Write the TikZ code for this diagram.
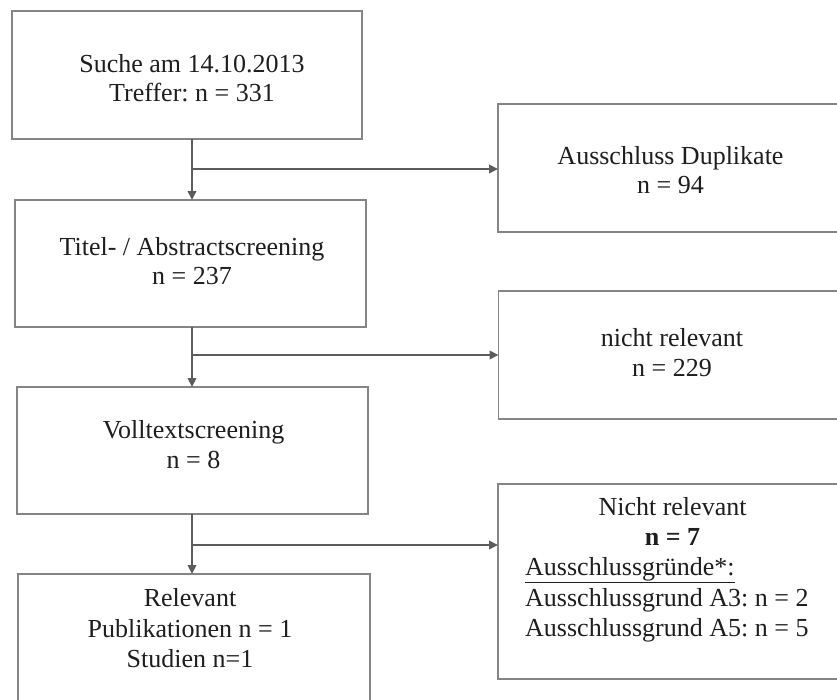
\documentclass[tikz,border=0pt]{standalone}
\usepackage{fontspec}
\setmainfont{Liberation Serif}
\usetikzlibrary{arrows.meta}
\definecolor{boxgray}{HTML}{858585}
\definecolor{arrgray}{HTML}{5C5C5C}
\definecolor{txtcol}{HTML}{1E1E1E}
\frenchspacing
\begin{document}
\begin{tikzpicture}[x=1pt,y=-1pt,
  box/.style={draw=boxgray,line width=1.7pt,inner sep=0pt,outer sep=0pt,fill=white},
  txt/.style={anchor=base,inner sep=0pt,text=txtcol,font=\fontsize{26}{31}\selectfont\frenchspacing},
  txtl/.style={txt,anchor=base west},
  flow/.style={draw=arrgray,line width=2.3pt,-{Triangle[length=9pt,width=8.5pt]}}]
\useasboundingbox (0,0) rectangle (837,699);
\clip (0,0) rectangle (837,699);
\fill[white] (0,0) rectangle (837,699);
% left column boxes
\node[box,minimum width=350pt,minimum height=128pt] (b1) at (187,75) {};
\node[box,minimum width=351pt,minimum height=127pt] (b2) at (190.5,263.5) {};
\node[box,minimum width=351pt,minimum height=127pt] (b3) at (192.5,450.5) {};
\node[box,minimum width=352pt,minimum height=140pt] (b4) at (194,644) {};
% right column boxes
\node[box,minimum width=347pt,minimum height=128pt] (r1) at (671.5,168) {};
\node[box,minimum width=347pt,minimum height=128pt] (r2) at (672,355) {};
\node[box,minimum width=347pt,minimum height=195pt] (r3) at (671.5,581.5) {};
% texts
\node[txt] (t1a) at (192,72) {Suche am 14.10.2013};
\node[txt] (t1b) at (192,101.5) {Treffer: n = 331};
\node[txt] (t2a) at (192,255) {Titel- / Abstractscreening};
\node[txt] (t2b) at (192,284.5) {n = 237};
\node[txt] (t3a) at (193.5,438) {Volltextscreening};
\node[txt] (t3b) at (193.5,468) {n = 8};
\node[txt] (t4a) at (190,606) {Relevant};
\node[txt] (t4b) at (190,637) {Publikationen n = 1};
\node[txt] (t4c) at (190,667) {Studien n=1};
\node[txt] (s1a) at (670.5,164.5) {Ausschluss Duplikate};
\node[txt] (s1b) at (670.5,193.5) {n = 94};
\node[txt] (s2a) at (672,346) {nicht relevant};
\node[txt] (s2b) at (672,376) {n = 229};
\node[txt] (s3a) at (672.5,515) {Nicht relevant};
\node[txt] (s3b) at (672.5,545) {\textbf{n = 7}};
\node[txtl] (s3c) at (525,575) {\underline{Ausschlussgründe*:}};
\node[txtl] (s3d) at (525,606) {Ausschlussgrund A3: n = 2};
\node[txtl] (s3e) at (525,636.5) {Ausschlussgrund A5: n = 5};
% connectors
\coordinate (ax) at (192,0);
\coordinate (j1) at (192,169);
\coordinate (j2) at (192,355);
\coordinate (j3) at (192,545);
\draw[flow] (b1.south -| ax) -- (b2.north -| ax);
\draw[flow] (b2.south -| ax) -- (b3.north -| ax);
\draw[flow] (b3.south -| ax) -- (b4.north -| ax);
\draw[flow] (j1) -- (j1 -| r1.west);
\draw[flow] (j2) -- (j2 -| r2.west);
\draw[flow] (j3) -- (j3 -| r3.west);
\end{tikzpicture}
\end{document}
